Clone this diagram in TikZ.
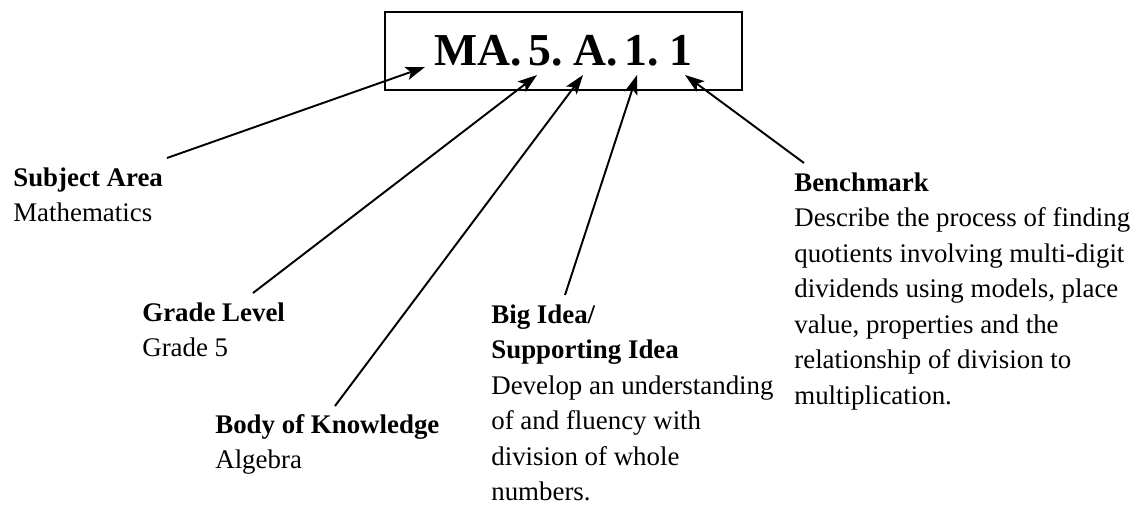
\documentclass[tikz,border=0pt]{standalone}
\usepackage{fontspec}
\setmainfont{Liberation Serif}
\usetikzlibrary{arrows.meta}

\begin{document}
\begin{tikzpicture}[x=0.02cm,y=-0.02cm]
\tikzstyle{every node}+=[inner sep=0pt]
% base anchor of a field sits on the baseline of its last line
\tikzstyle{field}=[anchor=base west, align=left, font=\fontsize{15.3}{20.2}\selectfont]
\tikzstyle{pointer}=[line width=1.1pt, -{Stealth[length=11pt,width=7.5pt,inset=2.5pt]}]
\useasboundingbox (0,0) rectangle (1138,507);
% code box
\draw [line width=1.1pt] (563.5,51) node [draw, minimum width=7.14cm, minimum height=1.56cm, font=\fontsize{26}{30}\selectfont\bfseries] (code) {\spaceskip=0.15em\relax MA. 5. A. 1. 1\hspace{6pt}};
% labels
\draw (13,221.5) node [field] (subject) {\textbf{Subject Area}\\Mathematics};
\draw (142,356.5) node [field] (grade) {\textbf{Grade Level}\\Grade 5};
\draw (215,468.5) node [field] (body) {\textbf{Body of Knowledge}\\Algebra};
\draw (491,500.5) node [field] (idea) {\textbf{Big Idea/}\\\textbf{Supporting Idea}\\Develop an understanding\\of and fluency with\\division of whole\\numbers.};
\draw (794,404) node [field] (bench) {\textbf{Benchmark}\\Describe the process of finding\\quotients involving multi-digit\\dividends using models, place\\value, properties and the\\relationship of division to\\multiplication.};
% arrow ends
\coordinate (subject tip) at (425,67);
\coordinate (grade tip) at (537,75);
\coordinate (body tip) at (583,75);
\coordinate (idea tip) at (637,75);
\coordinate (bench tip) at (685,75);
\coordinate (subject tail) at (167,158);
\coordinate (grade tail) at (253,293);
\coordinate (body tail) at (335,406);
\coordinate (idea tail) at (565,295);
\coordinate (bench tail) at (804,163);
\draw [pointer] (subject tail) -- (subject tip);
\draw [pointer] (grade tail) -- (grade tip);
\draw [pointer] (body tail) -- (body tip);
\draw [pointer] (idea tail) -- (idea tip);
\draw [pointer] (bench tail) -- (bench tip);
\end{tikzpicture}
\end{document}
